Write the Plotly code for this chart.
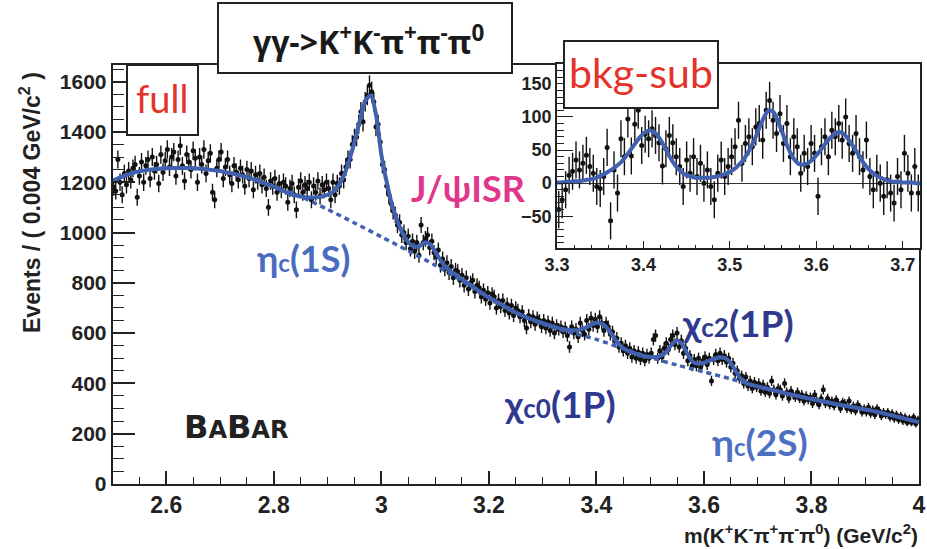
import numpy as np
import plotly.graph_objects as go

W, H = 927, 549
BLUE = "#4060b0"

# ---------------- data: main histogram (bins of 0.004 GeV from 2.50 to 4.00) ----------------
bin_lo, bin_w = 2.50, 0.004
main_counts = [
    1180, 1165, 1290, 1200, 1150, 1235, 1190, 1245, 1210, 1255,
    1270, 1140, 1225, 1280, 1200, 1265, 1290, 1215, 1300, 1245,
    1270, 1195, 1310, 1240, 1285, 1330, 1260, 1300, 1320, 1225,
    1290, 1345, 1265, 1205, 1310, 1280, 1250, 1325, 1295, 1200,
    1300, 1270, 1330, 1235, 1285, 1315, 1160, 1130, 1255, 1290,
    1320, 1215, 1260, 1290, 1230, 1195, 1265, 1240, 1210, 1255,
    1230, 1185, 1250, 1215, 1245, 1170, 1230, 1205, 1235, 1190,
    1220, 1175, 1100, 1205, 1185, 1215, 1160, 1195, 1170, 1200,
    1185, 1120, 1175, 1195, 1150, 1090, 1180, 1205, 1160, 1190,
    1175, 1200, 1130, 1185, 1160, 1205, 1145, 1190, 1170, 1200,
    1175, 1130, 1200, 1150, 1195, 1185, 1235, 1210, 1260, 1290,
    1290, 1350, 1375, 1380, 1430, 1480, 1440, 1520, 1545, 1585,
    1560, 1520, 1420, 1430, 1360, 1270, 1250, 1185, 1150, 1115,
    1085, 1070, 1030, 1040, 990, 1000, 960, 985, 935, 965,
    925, 960, 910, 1030, 960, 975, 990, 940, 965, 920,
    905, 930, 870, 895, 855, 880, 840, 865, 820, 850,
    845, 810, 830, 790, 820, 775, 800, 810, 765, 790,
    780, 745, 770, 735, 760, 720, 755, 745, 700, 730,
    705, 730, 690, 715, 680, 710, 670, 700, 690, 665,
    685, 650, 620, 670, 645, 665, 635, 660, 650, 625,
    650, 620, 645, 610, 640, 600, 630, 615, 625, 605,
    620, 590, 545, 625, 600, 615, 585, 640, 610, 595,
    650, 615, 660, 630, 655, 625, 665, 640, 610, 640,
    625, 595, 605, 570, 580, 545, 560, 530, 550, 520,
    540, 505, 530, 500, 525, 495, 520, 490, 515, 500,
    520, 575, 590, 500, 530, 505, 540, 560, 535, 575,
    590, 555, 600, 545, 570, 520, 540, 490, 510, 470,
    495, 470, 500, 465, 490, 505, 475, 500, 410, 495,
    515, 490, 520, 495, 510, 485, 500, 465, 480, 440,
    450, 420, 430, 400, 425, 390, 410, 380, 405, 385,
    400, 370, 395, 365, 385, 360, 410, 375, 355, 380,
    375, 350, 400, 365, 340, 370, 355, 345, 365, 340,
    355, 330, 350, 335, 345, 320, 355, 330, 315, 340,
    375, 320, 340, 315, 330, 310, 335, 320, 300, 325,
    320, 300, 330, 295, 310, 290, 315, 305, 285, 300,
    285, 305, 280, 295, 275, 300, 290, 270, 285, 275,
    285, 265, 280, 260, 275, 255, 270, 250, 265, 245,
    260, 245, 265, 240, 255,
]
main_x = bin_lo + bin_w * (np.arange(len(main_counts)) + 0.5)
main_err = np.sqrt(np.array(main_counts, dtype=float))

# total fit, read every 0.01 GeV from 2.50 to 4.00
fit_x = np.round(np.arange(2.50, 4.0001, 0.01), 3)
fit_total = [
    1205, 1215, 1224, 1232, 1238, 1243, 1247, 1250, 1252, 1254,
    1255, 1256, 1256, 1256, 1256, 1255, 1254, 1252, 1250, 1247,
    1244, 1240, 1236, 1231, 1226, 1220, 1213, 1206, 1198, 1190,
    1182, 1172, 1163, 1155, 1148, 1143, 1140, 1139, 1140, 1143,
    1150, 1162, 1185, 1225, 1285, 1360, 1445, 1522, 1545, 1470,
    1310, 1200, 1110, 1045, 995, 962, 945, 945, 960, 955,
    925, 890, 862, 845, 830, 815, 800, 785, 770, 755,
    742, 730, 718, 705, 693, 682, 672, 663, 655, 647,
    640, 633, 626, 620, 615, 612, 611, 614, 622, 633,
    641, 638, 620, 590, 560, 540, 528, 520, 513, 508,
    505, 505, 510, 525, 555, 572, 555, 515, 485, 478,
    482, 490, 498, 503, 500, 480, 445, 415, 400, 393,
    388, 383, 378, 373, 367, 362, 357, 352, 347, 342,
    338, 333, 329, 325, 320, 316, 312, 308, 304, 300,
    296, 292, 288, 283, 278, 273, 267, 262, 256, 251,
    246,
]

# background component, read every 0.05 GeV
bkg_x = np.round(np.arange(2.50, 4.0001, 0.05), 3)
bkg_vals = [1205, 1243, 1255, 1255, 1244, 1220, 1182, 1143, 1092, 1038,
            983, 927, 870, 808, 740, 681, 636, 603, 575, 538,
            503, 473, 446, 418, 388, 362, 338, 316, 296, 273, 246]

# ---------------- inset: background-subtracted ----------------
inset_lo = 3.30
inset_vals = [
    -40, -25, -10, 12, 18, 35, 20, 30, 42, 25,
    15, -5, -8, 10, 54, -57, 20, -15, 67, 40,
    97, 41, 89, 110, 57, 74, 67, 82, 72, 61,
    26, 52, 72, 61, 40, 25, -5, 35, 15, 40,
    10, 30, 0, 20, -5, -25, 15, 35, 10, 25,
    40, 55, 95, 30, 60, 70, 55, 85, 90, 65,
    110, 125, 95, 75, 105, 60, 90, 40, 70, 55,
    15, 45, 25, 60, 45, -20, 55, 70, 40, 80,
    70, 90, 65, 100, 60, 45, 75, 40, 20, 65,
    10, -10, 15, 0, -20, 5, -15, -30, 10, -10,
    45, 15, -15, 25, -15,
]
inset_x = inset_lo + bin_w * (np.arange(len(inset_vals)) + 0.5)
inset_err = [28] * len(inset_vals)

inset_fit_x = np.round(np.arange(3.30, 3.7201, 0.005), 4)
inset_fit = [
    1, 1, 2, 2, 3, 3, 4, 5, 6, 8,
    11, 14, 18, 22, 27, 33, 41, 50, 59, 68,
    75, 79, 79, 74, 65, 53, 41, 30, 22, 16,
    12, 10, 8, 8, 8, 8, 9, 10, 12, 14,
    17, 21, 27, 34, 44, 56, 70, 86, 101, 110,
    108, 96, 79, 61, 46, 35, 29, 28, 30, 35,
    42, 50, 59, 67, 73, 77, 76, 70, 61, 51,
    40, 30, 22, 16, 11, 8, 5, 3, 2, 2,
    1, 1, 1, 0, 0,
]


def px(x):
    return x / W


def py(y):
    return 1 - y / H


fig = go.Figure()

# main plot traces
fig.add_trace(go.Scatter(
    x=main_x, y=main_counts, mode="markers",
    marker=dict(color="#111", size=5),
    error_y=dict(type="data", array=main_err, width=0, thickness=1.4, color="#111"),
    xaxis="x", yaxis="y", showlegend=False, hoverinfo="skip"))
fig.add_trace(go.Scatter(
    x=bkg_x, y=bkg_vals, mode="lines",
    line=dict(color=BLUE, width=3.5, dash="5px,4px", shape="spline", smoothing=0.8),
    xaxis="x", yaxis="y", showlegend=False, hoverinfo="skip"))
fig.add_trace(go.Scatter(
    x=fit_x, y=fit_total, mode="lines",
    line=dict(color=BLUE, width=4, shape="spline", smoothing=0.8),
    xaxis="x", yaxis="y", showlegend=False, hoverinfo="skip"))

# inset traces
fig.add_trace(go.Scatter(
    x=inset_x, y=inset_vals, mode="markers",
    marker=dict(color="#111", size=5),
    error_y=dict(type="data", array=inset_err, width=0, thickness=1.4, color="#111"),
    xaxis="x2", yaxis="y2", showlegend=False, hoverinfo="skip"))
fig.add_trace(go.Scatter(
    x=inset_fit_x, y=inset_fit, mode="lines",
    line=dict(color=BLUE, width=4, shape="spline", smoothing=0.8),
    xaxis="x2", yaxis="y2", showlegend=False, hoverinfo="skip"))

AX = "#222"
tickfont_main_x = dict(family="Liberation Sans", size=23, color=AX, weight="bold")
tickfont_main_y = dict(family="Liberation Sans", size=21, color=AX, weight="bold")
tickfont_inset = dict(family="Liberation Sans", size=18, color=AX, weight="bold")

fig.update_layout(
    width=W, height=H,
    margin=dict(l=0, r=0, t=0, b=0),
    paper_bgcolor="white", plot_bgcolor="white",
    xaxis=dict(
        domain=[px(112.5), px(919)], range=[2.5, 4.0], anchor="y", automargin=False,
        showline=True, linecolor=AX, linewidth=1.5, mirror=True,
        showgrid=False, zeroline=False,
        ticks="inside", ticklen=13, tickwidth=1.5, tickcolor=AX,
        tickvals=[2.6, 2.8, 3.0, 3.2, 3.4, 3.6, 3.8, 4.0],
        ticktext=["2.6", "2.8", "3", "3.2", "3.4", "3.6", "3.8", "4"],
        tickfont=tickfont_main_x,
        minor=dict(ticks="inside", ticklen=7, tickwidth=1.3, tickcolor=AX, dtick=0.05, tick0=2.5, showgrid=False),
    ),
    yaxis=dict(
        domain=[py(484), py(65)], range=[0, 1666], anchor="x", automargin=False,
        showline=True, linecolor=AX, linewidth=1.5, mirror=True,
        showgrid=False, zeroline=False,
        ticks="inside", ticklen=23, tickwidth=1.5, tickcolor=AX,
        tick0=0, dtick=200, tickfont=tickfont_main_y,
        minor=dict(ticks="inside", ticklen=12, tickwidth=1.3, tickcolor=AX, dtick=50, tick0=0, showgrid=False),
    ),
    xaxis2=dict(
        domain=[px(557), px(920)], range=[3.3, 3.72], anchor="y2", automargin=False,
        showline=True, linecolor=AX, linewidth=1.5, mirror=True,
        showgrid=False, zeroline=False,
        ticks="inside", ticklen=7, tickwidth=1.3, tickcolor=AX,
        tick0=3.3, dtick=0.1, tickformat=".1f", tickfont=tickfont_inset,
        minor=dict(ticks="inside", ticklen=3, tickwidth=1, tickcolor=AX, dtick=0.02, tick0=3.3, showgrid=False),
    ),
    yaxis2=dict(
        domain=[py(248), py(64)], range=[-98, 180], anchor="x2", automargin=False,
        showline=True, linecolor=AX, linewidth=1.5, mirror=True,
        showgrid=False, zeroline=True, zerolinecolor="#333", zerolinewidth=1.2,
        ticks="inside", ticklen=16, tickwidth=1.3, tickcolor=AX,
        tick0=0, dtick=50, tickfont=tickfont_inset,
        minor=dict(ticks="inside", ticklen=7, tickwidth=1, tickcolor=AX, dtick=10, tick0=0, showgrid=False),
    ),
)

shapes = []
boxes = [(218, 3, 512, 73), (127, 65, 198, 135), (564, 41, 718, 108)]
for (x0, y0, x1, y1) in boxes:
    shapes.append(dict(type="rect", xref="paper", yref="paper",
                       x0=px(x0), x1=px(x1), y0=py(y1), y1=py(y0),
                       line=dict(color="#222", width=2), fillcolor="white", layer="above"))
fig.update_layout(shapes=shapes)

RED = "#e5332a"
ann = []


def add(text, x, y, size, color, family="Lato", weight="normal", xanchor="center", angle=0):
    ann.append(dict(text=text, x=px(x), y=py(y), xref="paper", yref="paper",
                    showarrow=False, xanchor=xanchor, yanchor="middle", textangle=angle,
                    font=dict(family=family, size=size, color=color, weight=weight)))


def small(t, s):
    return "<span style='font-size:%dpx'>%s</span>" % (s, t)


add("γγ->K<sup>+</sup>K<sup>-</sup>π<sup>+</sup>π<sup>-</sup>π<sup>0</sup>", 368, 40, 32, "#1a1a1a", "Open Sans", 700)
add("full", 162, 98, 38, RED, "Lato")
add("bkg-sub", 641, 73, 41, RED, "Lato")
add("η" + small("c", 24) + "(1S)", 303, 258, 36, "#4a6cc0", "Lato", "bold")
add("J/ψISR", 468, 188, 36, "#e0368c", "Lato", "bold")
add("χ" + small("c2", 26) + "(1P)", 738, 322, 37, "#2f3a8f", "Lato", "bold")
add("χ" + small("c0", 26) + "(1P)", 560, 403, 37, "#2f3a8f", "Lato", "bold")
add("η" + small("c", 24) + "(2S)", 760, 441, 37, "#4d70c2", "Lato", "bold")
add("<b>B" + small("A", 24) + "B" + small("AR", 24) + "</b>",
    236, 427, 32, "#222", "DejaVu Sans", "bold")
add("Events / ( 0.004 GeV/c<sup>2</sup> )", 30, 203, 23, "#222", "Liberation Sans", "bold", angle=-90)
add("m(K<sup>+</sup>K<sup>-</sup>π<sup>+</sup>π<sup>-</sup>π<sup>0</sup>) (GeV/c<sup>2</sup>)",
    920, 534, 21, "#222", "Liberation Sans", "bold", xanchor="right")
fig.update_layout(annotations=ann)

fig.write_html("out.html")
